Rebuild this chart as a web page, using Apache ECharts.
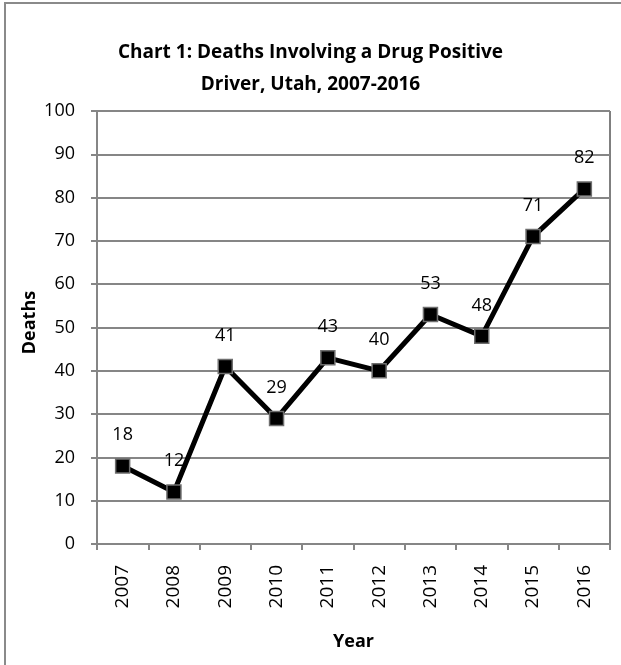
<!DOCTYPE html>
<html>
<head>
<meta charset="utf-8">
<script src="https://cdn.jsdelivr.net/npm/echarts@6/dist/echarts.min.js"></script>
<style>
  html, body { margin: 0; padding: 0; background: #fff; }
  #chart { width: 621px; height: 665px; }
  .frame {
    position: absolute; left: 4px; top: 2px; width: 700px; height: 700px;
    border-left: 2px solid #8a8a8a; border-top: 2px solid #8a8a8a;
    pointer-events: none;
  }
</style>
</head>
<body>
<div id="chart"></div>
<div class="frame"></div>
<script>
const years = ['2007', '2008', '2009', '2010', '2011', '2012', '2013', '2014', '2015', '2016']
const deaths = [18, 12, 41, 29, 43, 40, 53, 48, 71, 82]
const titleLines = ['Chart 1: Deaths Involving a Drug Positive', 'Driver, Utah, 2007-2016']

const font = 'Open Sans'
const axisGray = '#868686'

const chart = echarts.init(document.getElementById('chart'))
chart.setOption({
  animation: false,
  title: {
    text: titleLines.join('\n'),
    left: 'center',
    top: 32,
    textStyle: {
      fontFamily: font,
      fontSize: 19,
      fontWeight: 'bold',
      color: '#000',
      lineHeight: 32,
    },
  },
  grid: {
    left: 97,
    right: 11,
    top: 111,
    bottom: 121,
    show: true,
    borderColor: '#000',
    borderWidth: 1,
  },
  xAxis: {
    type: 'category',
    data: years,
    boundaryGap: true,
    name: 'Year',
    nameLocation: 'middle',
    nameGap: 89,
    nameMoveOverlap: false,
    nameTextStyle: { fontFamily: font, fontSize: 18, fontWeight: 'bold', color: '#000' },
    axisLine: { lineStyle: { color: axisGray, width: 2 } },
    axisTick: { show: true, length: 6, lineStyle: { color: axisGray, width: 2 } },
    axisLabel: {
      rotate: 90,
      margin: 21,
      fontFamily: font,
      fontSize: 19,
      color: '#000',
    },
    splitLine: { show: false },
  },
  yAxis: {
    type: 'value',
    min: 0,
    max: 100,
    interval: 10,
    name: 'Deaths',
    nameLocation: 'middle',
    nameGap: 58,
    nameMoveOverlap: false,
    nameTextStyle: { fontFamily: font, fontSize: 18, fontWeight: 'bold', color: '#000', padding: [0, 0, 0, 10] },
    axisLine: { show: true, lineStyle: { color: axisGray, width: 2 } },
    axisTick: { show: true, length: 6, lineStyle: { color: axisGray, width: 2 } },
    axisLabel: { margin: 22, fontFamily: font, fontSize: 18, color: '#000' },
    splitLine: { lineStyle: { color: axisGray, width: 2 } },
  },
  series: [
    {
      type: 'line',
      data: deaths,
      symbol: 'rect',
      symbolSize: 14,
      lineStyle: { color: '#000', width: 5 },
      itemStyle: { color: '#000', borderColor: '#6e6e6e', borderWidth: 1.5 },
      label: {
        show: true,
        position: 'top',
        distance: 14,
        fontFamily: font,
        fontSize: 18,
        color: '#000',
      },
    },
  ],
})
</script>
</body>
</html>
